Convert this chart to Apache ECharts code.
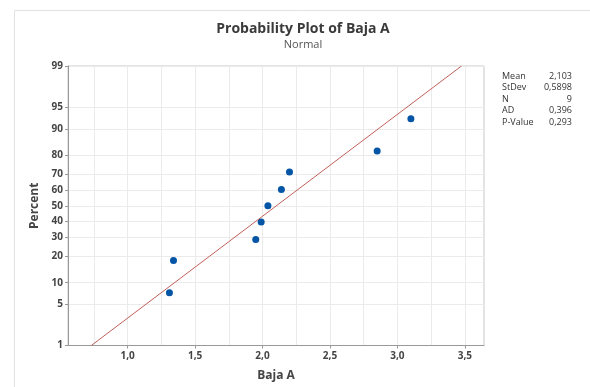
<!DOCTYPE html>
<html>
<head>
<meta charset="utf-8">
<script src="https://cdn.jsdelivr.net/npm/echarts@6/dist/echarts.min.js"></script>
<style>
  html, body { margin: 0; padding: 0; background: #fff; }
  #chart { width: 590px; height: 387px; }
</style>
</head>
<body>
<div id="chart"></div>
<script>
// values
const bajaA = [1.31, 1.34, 1.95, 1.99, 2.04, 2.14, 2.20, 2.85, 3.10];
const plotPercent = [7.4, 18.1, 28.7, 39.4, 50, 60.6, 71.3, 81.9, 92.6];
const percentTicks = [1, 5, 10, 20, 30, 40, 50, 60, 70, 80, 90, 95, 99];
const xLabelTicks = [1.0, 1.5, 2.0, 2.5, 3.0, 3.5];
const xGridTicks = [0.75, 1.0, 1.25, 1.5, 1.75, 2.0, 2.25, 2.5, 2.75, 3.0, 3.25, 3.5];
const statNames = ['Mean', 'StDev', 'N', 'AD', 'P-Value'];
const statValues = ['2,103', '0,5898', '9', '0,396', '0,293'];
const fitMean = 2.103;
const fitStDev = 0.5898;

// inverse normal cdf (Acklam) - used as the probability axis transform
function probit(p) {
  const a = [-39.6968302866538, 220.946098424521, -275.928510446969, 138.357751867269, -30.6647980661472, 2.50662827745924];
  const b = [-54.4760987982241, 161.585836858041, -155.698979859887, 66.8013118877197, -13.2806815528857];
  const c = [-0.00778489400243029, -0.322396458041136, -2.40075827716184, -2.54973253934373, 4.37466414146497, 2.93816398269878];
  const d = [0.00778469570904146, 0.32246712907004, 2.445134137143, 3.75440866190742];
  const pl = 0.02425;
  let q, r;
  if (p < pl) {
    q = Math.sqrt(-2 * Math.log(p));
    return (((((c[0]*q+c[1])*q+c[2])*q+c[3])*q+c[4])*q+c[5]) / ((((d[0]*q+d[1])*q+d[2])*q+d[3])*q+1);
  }
  if (p > 1 - pl) {
    q = Math.sqrt(-2 * Math.log(1 - p));
    return -(((((c[0]*q+c[1])*q+c[2])*q+c[3])*q+c[4])*q+c[5]) / ((((d[0]*q+d[1])*q+d[2])*q+d[3])*q+1);
  }
  q = p - 0.5; r = q * q;
  return (((((a[0]*r+a[1])*r+a[2])*r+a[3])*r+a[4])*r+a[5])*q / (((((b[0]*r+b[1])*r+b[2])*r+b[3])*r+b[4])*r+1);
}

const zTicks = percentTicks.map(p => probit(p / 100));
const zMin = zTicks[0];
const zMax = zTicks[zTicks.length - 1];
const points = bajaA.map((v, i) => [v, probit(plotPercent[i] / 100)]);
const fitLine = [[fitMean + zMin * fitStDev, zMin], [fitMean + zMax * fitStDev, zMax]];

const font = '"Open Sans", "Noto Sans", sans-serif';
const xMin = 0.558, xMax = 3.642;

const myChart = echarts.init(document.getElementById('chart'));

const statText = [];
statNames.forEach((name, i) => {
  const y = 76 + i * 11.6;
  statText.push({
    type: 'text', x: 502, y: y,
    style: { text: name, font: '9px ' + font, fill: '#333', verticalAlign: 'middle' }
  });
  statText.push({
    type: 'text', x: 572, y: y,
    style: { text: statValues[i], font: '9px ' + font, fill: '#333', align: 'right', verticalAlign: 'middle' }
  });
});

const option = {
  animation: false,
  backgroundColor: '#fff',
  grid: {
    left: 68,
    right: 106,
    top: 66,
    bottom: 41.5,
    show: true,
    borderColor: '#c8c8c8',
    borderWidth: 1
  },
  graphic: [
    {
      type: 'rect',
      shape: { x: 14.5, y: 10.5, width: 700, height: 500 },
      style: { fill: 'none', stroke: '#e2e2e2', lineWidth: 1 },
      silent: true
    },
    {
      type: 'text', x: 303, y: 29,
      style: { text: 'Probability Plot of Baja A', font: 'bold 14px ' + font, fill: '#3a3a3a', align: 'center', verticalAlign: 'middle' }
    },
    {
      type: 'text', x: 303, y: 44.5,
      style: { text: 'Normal', font: '11px ' + font, fill: '#555', align: 'center', verticalAlign: 'middle' }
    }
  ].concat(statText),
  xAxis: [
    {
      type: 'value',
      min: xMin,
      max: xMax,
      name: 'Baja A',
      nameLocation: 'middle',
      nameGap: 24,
      nameTextStyle: { color: '#444', fontSize: 12, fontWeight: 'bold', fontFamily: font },
      axisLine: { onZero: false, lineStyle: { color: '#999', width: 1 } },
      axisTick: { customValues: xLabelTicks, length: 3, lineStyle: { color: '#999' } },
      axisLabel: {
        customValues: xLabelTicks,
        margin: 6,
        color: '#444',
        fontSize: 10,
        fontWeight: 'bold',
        fontFamily: font,
        formatter: v => v.toFixed(1).replace('.', ',')
      },
      splitLine: { show: false }
    },
    {
      type: 'value',
      position: 'top',
      min: xMin,
      max: xMax,
      axisLine: { show: false, onZero: false },
      axisTick: { show: false, customValues: xGridTicks },
      axisLabel: { show: false, customValues: xGridTicks },
      splitLine: { show: true, lineStyle: { color: '#ebebeb', width: 1 } }
    }
  ],
  yAxis: {
    type: 'value',
    min: zMin,
    max: zMax,
    name: 'Percent',
    nameLocation: 'middle',
    nameGap: 24,
    nameTextStyle: { color: '#444', fontSize: 12, fontWeight: 'bold', fontFamily: font },
    axisLine: { show: true, onZero: false, lineStyle: { color: '#999', width: 1 } },
    axisTick: { show: true, customValues: zTicks, length: 3, lineStyle: { color: '#999' } },
    axisLabel: {
      customValues: zTicks,
      margin: 5,
      color: '#444',
      fontSize: 10,
      fontWeight: 'bold',
      fontFamily: font,
      formatter: v => {
        const i = zTicks.findIndex(z => Math.abs(z - v) < 1e-6);
        return i >= 0 ? String(percentTicks[i]) : '';
      }
    },
    splitLine: { show: true, lineStyle: { color: '#ebebeb', width: 1 } }
  },
  series: [
    {
      name: 'Fit',
      type: 'line',
      xAxisIndex: 0,
      showSymbol: false,
      silent: true,
      lineStyle: { color: '#c0605a', width: 1 },
      data: fitLine
    },
    {
      name: 'Baja A',
      type: 'scatter',
      xAxisIndex: 0,
      symbolSize: 7,
      itemStyle: { color: '#0455a5', opacity: 1 },
      data: points
    }
  ]
};

option && myChart.setOption(option);
</script>
</body>
</html>
